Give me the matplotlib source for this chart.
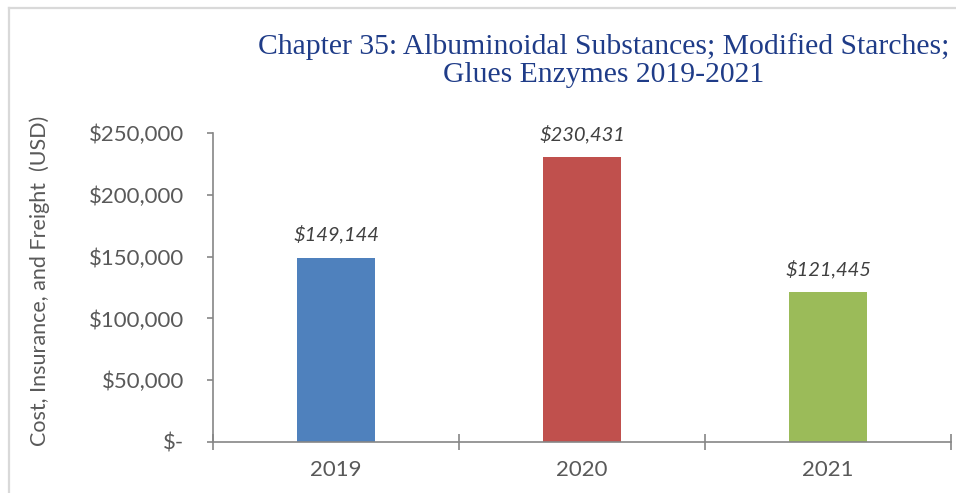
import matplotlib.pyplot as plt
from matplotlib.ticker import FuncFormatter, FixedLocator

# chapter 35 imports, cost insurance and freight by year
years = ['2019', '2020', '2021']
cif = [149144, 230431, 121445]
bar_colors = ['#4F81BD', '#C0504D', '#9BBB59']
y_ticks = [0, 50000, 100000, 150000, 200000, 250000]

def money(v, pos=None):
    if v == 0:
        return '$-'
    return '${:,.0f}'.format(v)

fig = plt.figure(figsize=(9.56, 4.93), dpi=100)

# light frame on top and left
fig.add_artist(plt.Line2D([8.5/956, 1], [1-7.5/493, 1-7.5/493], color='#d9d9d9', lw=1.6))
fig.add_artist(plt.Line2D([8.5/956, 8.5/956], [0, 1-7.5/493], color='#d9d9d9', lw=1.6))

ax = fig.add_axes([213/956, 51/493, 738/956, 309/493])
x = range(len(years))
ax.bar(x, cif, width=0.317, color=bar_colors)

for i, v in enumerate(cif):
    ax.annotate(money(v), (i, v), xytext=(0, 10), textcoords='offset points',
                ha='center', va='bottom', fontsize=14.5, style='italic',
                color='#404040', family='Lato')

ax.set_xlim(-0.5, 2.5)
ax.set_ylim(0, 250000)
ax.yaxis.set_major_locator(FixedLocator(y_ticks))
ax.yaxis.set_major_formatter(FuncFormatter(money))
ax.set_xticks(list(x))
ax.set_xticklabels(years)
ax.set_xticks([-0.5, 0.5, 1.5, 2.5], minor=True)

for s in ['top', 'right']:
    ax.spines[s].set_visible(False)
for s in ['left', 'bottom']:
    ax.spines[s].set_color('#868686')
    ax.spines[s].set_linewidth(1.2)

ax.tick_params(axis='y', direction='out', length=4.5, width=1.2, color='#868686',
               pad=16, labelsize=16, labelcolor='#595959')
ax.tick_params(axis='x', which='major', length=0, pad=13, labelsize=16, labelcolor='#595959')
ax.tick_params(axis='x', which='minor', direction='inout', length=12, width=1.2, color='#868686')
for lab in ax.get_xticklabels() + ax.get_yticklabels():
    lab.set_family('Lato')

fig.text(40/956, 1-281/493, 'Cost, Insurance, and Freight  (USD)', rotation=90,
         ha='center', va='center', fontsize=15.5, color='#595959', family='Lato')

fig.text(604/956, 1-61/493, 'Chapter 35: Albuminoidal Substances; Modified Starches;\nGlues Enzymes 2019-2021',
         ha='center', va='center', multialignment='center', fontsize=21.3,
         color='#1F3C88', family='Liberation Serif', linespacing=1.1)

fig.savefig('out.png', dpi=100)
